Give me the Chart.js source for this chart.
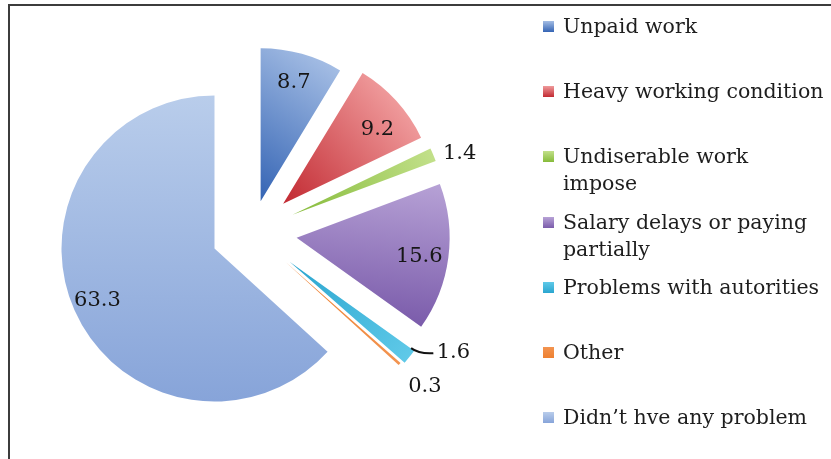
<!DOCTYPE html>
<html><head><meta charset="utf-8">
<script src="https://cdn.jsdelivr.net/npm/chart.js@4.4.0/dist/chart.umd.min.js"></script>
<style>
html,body{margin:0;padding:0;background:#fff;}
#wrap{position:relative;width:831px;height:459px;overflow:hidden;background:#fff;}
#frame{position:absolute;left:8px;top:4px;width:900px;height:500px;border-left:2px solid #3c3c3c;border-top:2px solid #3c3c3c;}
canvas{position:absolute;left:0;top:0;}
#legend{position:absolute;left:543px;top:13px;font-family:"DejaVu Serif",serif;font-size:20.5px;line-height:27px;color:#1e1e1e;white-space:nowrap;}
.item{position:relative;height:65.2px;padding-left:20px;}
.sw{position:absolute;left:0;top:8px;width:11px;height:11px;}
</style></head>
<body><div id="wrap"><div id="frame"></div><canvas id="c" width="831" height="459"></canvas><div id="legend"></div></div>
<script>
// ---- data ----
const categories = ["Unpaid work","Heavy working condition","Undiserable work impose","Salary delays or paying partially","Problems with autorities","Other","Didn\u2019t hve any problem"];
const legendLines = [["Unpaid work"],["Heavy working condition"],["Undiserable work","impose"],["Salary delays or paying","partially"],["Problems with autorities"],["Other"],["Didn\u2019t hve any problem"]];
const values = [8.7, 9.2, 1.4, 15.6, 1.6, 0.3, 63.3];
const valueLabels = ["8.7","9.2","1.4","15.6","1.6","0.3","63.3"];

// ---- style ----
const R = 153;
const explode = [32,42,44,45,48,45,41];      // px each slice is pulled out
const labelRadius = [123,120,178,124,187,187,128];
const labelShift = [0,4,3,1,-9.5,0,0];
const darkColors  = ["#3464b4","#c22a32","#86bb3a","#7b5cab","#2aa5cf","#ee8030","#87a4d9"];
const lightColors = ["#a4bde4","#ef9a9b","#c2e08a","#b7a2d6","#5fc9e8","#f39450","#b9cdeb"];
const gradSpec = [
  {a0:15,r0:0,a1:35,r1:153},
  {a0:48,r0:0,a1:50,r1:153},
  {a0:67,r0:0,a1:67,r1:153},
  {a0:125,r0:153,a1:69,r1:153},
  {a0:128,r0:0,a1:128,r1:153},
  {a0:131,r0:0,a1:131,r1:153},
  {a0:180,r0:153,a1:0,r1:153}
];

function makeFill(context){
  const i = context.dataIndex;
  const chart = context.chart;
  const area = chart.chartArea;
  if(!area) return darkColors[i];
  const cx=(area.left+area.right)/2, cy=(area.top+area.bottom)/2;
  const g = gradSpec[i];
  const off = explode[i];
  // gradient follows the exploded slice
  const mid = gradMid(i);
  const ox = off*Math.sin(mid), oy = -off*Math.cos(mid);
  const p=(a,r)=>[cx+ox+r*Math.sin(a*Math.PI/180), cy+oy-r*Math.cos(a*Math.PI/180)];
  const [x0,y0]=p(g.a0,g.r0), [x1,y1]=p(g.a1,g.r1);
  const grd = chart.ctx.createLinearGradient(x0,y0,x1,y1);
  grd.addColorStop(0,darkColors[i]); grd.addColorStop(1,lightColors[i]);
  return grd;
}
function gradMid(i){
  const total = values.reduce((s,v)=>s+v,0);
  let before = 0; for(let k=0;k<i;k++) before+=values[k];
  return (before + values[i]/2)/total*2*Math.PI;
}

const explodePlugin = {
  id:'explodePlugin',
  beforeDatasetsDraw(chart){
    const area=chart.chartArea;
    const cx=(area.left+area.right)/2, cy=(area.top+area.bottom)/2;
    chart.getDatasetMeta(0).data.forEach((arc,i)=>{
      const mid=(arc.startAngle+arc.endAngle)/2;
      arc.x = cx + Math.cos(mid)*explode[i];
      arc.y = cy + Math.sin(mid)*explode[i];
    });
  }
};

const valueText = {
  id:'valueText',
  afterDatasetsDraw(chart){
    const ctx=chart.ctx, meta=chart.getDatasetMeta(0);
    ctx.save();
    ctx.font='21px "DejaVu Serif"';
    ctx.fillStyle='#161616'; ctx.textAlign='center'; ctx.textBaseline='middle';
    meta.data.forEach((arc,i)=>{
      const mid=(arc.startAngle+arc.endAngle)/2;
      const ax=arc.x, ay=arc.y;
      const a=mid+labelShift[i]*Math.PI/180;
      const lx=ax+Math.cos(a)*labelRadius[i], ly=ay+Math.sin(a)*labelRadius[i];
      ctx.fillText(valueLabels[i],lx,ly);
      if(i===4){
        const sa=mid-3*Math.PI/180;
        const sx=ax+Math.cos(sa)*149, sy=ay+Math.sin(sa)*149;
        ctx.beginPath(); ctx.moveTo(sx,sy);
        ctx.quadraticCurveTo(sx+8,sy+6,lx-20,ly+1);
        ctx.lineWidth=2; ctx.strokeStyle='#111'; ctx.stroke();
      }
    });
    ctx.restore();
  }
};

new Chart(document.getElementById('c'),{
  type:'pie',
  data:{labels:categories,datasets:[{data:values,backgroundColor:makeFill,borderWidth:0,offset:0,hoverOffset:0,radius:R}]},
  options:{
    responsive:false, animation:false, events:[], devicePixelRatio:1,
    layout:{padding:{left:0,right:327,top:5,bottom:0}},
    plugins:{legend:{display:false},tooltip:{enabled:false}}
  },
  plugins:[explodePlugin,valueText]
});

// HTML legend
const lg=document.getElementById('legend');
legendLines.forEach((lines,i)=>{
  const it=document.createElement('div'); it.className='item';
  const sw=document.createElement('div'); sw.className='sw';
  sw.style.background='linear-gradient(to bottom,'+lightColors[i]+','+darkColors[i]+')';
  it.appendChild(sw);
  lines.forEach(t=>{const d=document.createElement('div'); d.textContent=t; it.appendChild(d);});
  lg.appendChild(it);
});
</script>
</body></html>
